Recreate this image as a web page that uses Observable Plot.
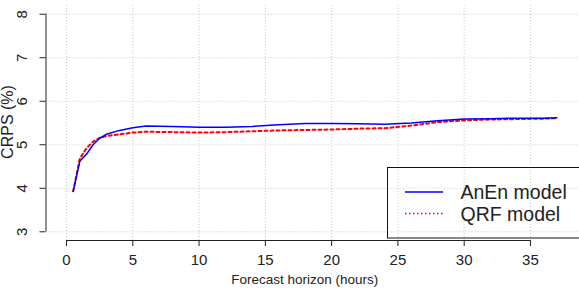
<!DOCTYPE html>
<html>
<head>
<meta charset="utf-8">
<script src="https://cdn.jsdelivr.net/npm/d3@7"></script>
<script src="https://cdn.jsdelivr.net/npm/@observablehq/plot@0.6"></script>
<style>
  html, body { margin: 0; padding: 0; background: #fff; }
  #chart { position: relative; width: 579px; height: 288px; overflow: hidden; }
  svg { font-family: "Liberation Sans", Arial, sans-serif; }
</style>
</head>
<body>
<div id="chart"></div>
<script>
// Forecast horizon (hours)
const hours = [0.5, 1, 1.5, 2, 2.5, 3, 4, 5, 6, 8, 10, 12, 14, 16, 18, 20, 22, 24, 26, 28, 30, 32, 34, 36, 37];
// CRPS (%) of the AnEn model
const anen = [3.93, 4.62, 4.78, 5.00, 5.15, 5.24, 5.33, 5.39, 5.43, 5.42, 5.40, 5.40, 5.42, 5.46, 5.49, 5.49, 5.48, 5.47, 5.50, 5.55, 5.59, 5.60, 5.61, 5.61, 5.62];
// CRPS (%) of the QRF model
const qrf = [3.93, 4.68, 4.92, 5.07, 5.16, 5.20, 5.24, 5.28, 5.30, 5.29, 5.28, 5.29, 5.31, 5.33, 5.34, 5.35, 5.37, 5.38, 5.44, 5.52, 5.56, 5.58, 5.59, 5.60, 5.61];

const xTicks = [0, 5, 10, 15, 20, 25, 30, 35];
const yTicks = [3, 4, 5, 6, 7, 8];
const seriesNames = ["AnEn model", "QRF model"];
const xLabel = "Forecast horizon (hours)";
const yLabel = "CRPS (%)";

const anenData = hours.map((h, i) => ({h, v: anen[i]}));
const qrfData = hours.map((h, i) => ({h, v: qrf[i]}));

const W = 579, H = 288;
const xDom = [-1.55, 38.7], yDom = [2.8, 8.2];
const gridStyle = {stroke: "#c8c8c8", strokeWidth: 1, strokeDasharray: "1,2", strokeOpacity: 1};
const ink = "#222";

const plot = Plot.plot({
  width: W,
  height: H,
  marginLeft: 45.5,
  marginRight: 0,
  marginTop: 5,
  marginBottom: 48,
  x: {domain: xDom, axis: null},
  y: {domain: yDom, axis: null},
  style: {fontFamily: "'Liberation Sans', Arial, sans-serif", background: "white"},
  marks: [
    Plot.gridX(xTicks, {...gridStyle}),
    Plot.gridY(yTicks, {...gridStyle}),
    // R-style axis lines, spanning the tick range
    Plot.ruleY([yDom[0]], {x1: d3.min(xTicks), x2: d3.max(xTicks), stroke: ink, strokeWidth: 1}),
    Plot.ruleX([xDom[0]], {y1: d3.min(yTicks), y2: d3.max(yTicks), stroke: ink, strokeWidth: 1}),
    Plot.axisX({ticks: xTicks, tickSize: 6, tickPadding: 8, fontSize: 15, stroke: ink, color: ink, label: null}),
    Plot.axisY({ticks: yTicks, tickSize: 6, tickFormat: () => "", stroke: ink, label: null}),
    Plot.text(yTicks, {y: d => d, text: d => String(d), frameAnchor: "left", dx: -19.5, rotate: -90, textAnchor: "middle", lineAnchor: "bottom", fontSize: 15, fill: ink}),
    Plot.text([xLabel], {frameAnchor: "bottom", dx: -8, dy: 43, lineAnchor: "bottom", fontSize: 13.5, fill: ink}),
    Plot.text([yLabel], {frameAnchor: "left", dx: -33.5, dy: -1, rotate: -90, textAnchor: "middle", lineAnchor: "bottom", fontSize: 16, fill: ink}),
    Plot.line(qrfData, {x: "h", y: "v", stroke: "#ff0000", strokeWidth: 2, strokeDasharray: "3,3"}),
    Plot.line(anenData, {x: "h", y: "v", stroke: "#0000ff", strokeWidth: 1.5})
  ]
});

document.getElementById("chart").appendChild(plot);

const svg = d3.select(plot);
// Legend (R style box, partly outside the right edge)
const lg = svg.append("g")
  .attr("font-family", "'Liberation Sans', Arial, sans-serif")
  .attr("text-anchor", "start");
lg.append("rect").attr("x", 387.5).attr("y", 167.5).attr("width", 240).attr("height", 70.5)
  .style("fill", "none").style("stroke", "#111").style("stroke-width", "1px");
const items = [
  {name: seriesNames[0], color: "#0000ff", dash: "none", w: 1.6, y: 192},
  {name: seriesNames[1], color: "#ff0000", dash: "1.5,2.5", w: 1.3, y: 213.5}
];
items.forEach(it => {
  lg.append("line").attr("x1", 405).attr("x2", 443).attr("y1", it.y).attr("y2", it.y)
    .style("stroke", it.color).style("stroke-width", it.w + "px").style("stroke-dasharray", it.dash);
  lg.append("text").attr("x", 460.5).attr("y", it.y + 7).attr("font-size", 19.5)
    .attr("text-anchor", "start").style("fill", ink).text(it.name);
});
</script>
</body>
</html>
